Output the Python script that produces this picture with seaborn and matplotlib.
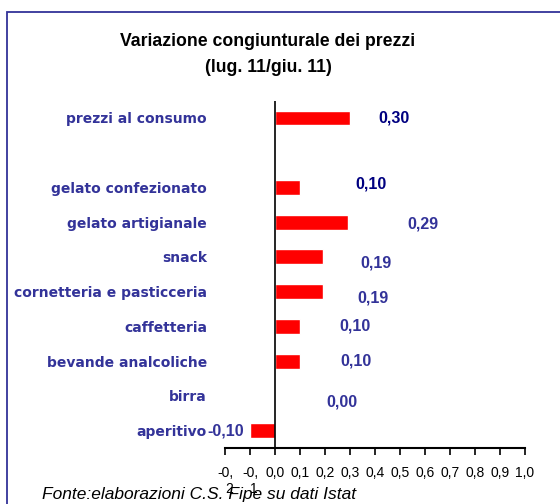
import matplotlib
matplotlib.use("Agg")
import matplotlib.pyplot as plt
import seaborn as sns
import pandas as pd
import numpy as np
from matplotlib.patches import Rectangle

# ---- data ----
categories = ["prezzi al consumo", " ", "gelato confezionato", "gelato artigianale",
              "snack", "cornetteria e pasticceria", "caffetteria",
              "bevande analcoliche", "birra", "aperitivo"]
values = [0.30, np.nan, 0.10, 0.29, 0.19, 0.19, 0.10, 0.10, 0.00, -0.10]
value_labels = ["0,30", "", "0,10", "0,29", "0,19", "0,19", "0,10", "0,10", "0,00", "-0,10"]
tick_values = [-0.2, -0.1, 0.0, 0.1, 0.2, 0.3, 0.4, 0.5, 0.6, 0.7, 0.8, 0.9, 1.0]
tick_labels = ["-0,\n2", "-0,\n1", "0,0", "0,1", "0,2", "0,3", "0,4", "0,5",
               "0,6", "0,7", "0,8", "0,9", "1,0"]
title_lines = ["Variazione congiunturale dei prezzi", "(lug. 11/giu. 11)"]
footer = "Fonte:elaborazioni C.S. Fipe su dati Istat"

# ---- label styling (offsets of data labels, as in the original layout) ----
label_dx = [0.176, 0, 0.284, 0.302, 0.215, 0.203, 0.22, 0.224, 0.268, -0.096]
label_dy = [0.0, 0, -0.09, 0.06, 0.17, 0.17, 0.0, 0.0, 0.17, 0.0]
label_colors = ["#000080", "#000080", "#000080", "#333399", "#333399", "#333399",
                "#333399", "#333399", "#333399", "#333399"]

sns.set_theme(style="white")
plt.rcParams["font.family"] = ["Liberation Sans", "DejaVu Sans"]

W, H = 560, 504
fig = plt.figure(figsize=(W / 100, H / 100), dpi=100)
ax = fig.add_axes([225 / W, 1 - 448 / H, 300 / W, (448 - 100.6) / H])

df = pd.DataFrame({"cat": categories, "val": values})
sns.barplot(data=df.dropna(), x="val", y="cat", order=categories, color="#FF0000",
            saturation=1, width=0.43, orient="h", errorbar=None, ax=ax)

ax.set_xlim(-0.2, 1.0)
ax.set_ylim(len(categories) - 0.5, -0.5)
ax.set_xlabel("")
ax.set_ylabel("")
ax.set_xticks(tick_values)
ax.set_xticklabels(tick_labels)
for t in ax.get_xticklabels():
    t.set_multialignment("right")
    t.set_verticalalignment("top")

for s in ["top", "right", "left"]:
    ax.spines[s].set_visible(False)
ax.spines["bottom"].set_color("black")
ax.spines["bottom"].set_linewidth(1.5)
ax.axvline(0, color="black", lw=1.2, zorder=3)

ax.tick_params(axis="x", direction="out", length=5, width=1.2, colors="black",
               pad=8, labelsize=10, bottom=True)
ax.tick_params(axis="y", length=0, pad=13, labelcolor="#333399")
for t in ax.get_yticklabels():
    t.set_fontfamily("DejaVu Sans")
    t.set_fontweight("bold")
    t.set_fontsize(10)

for i, (v, lab) in enumerate(zip(values, value_labels)):
    if not lab:
        continue
    ax.text(v + label_dx[i], i + label_dy[i], lab, ha="center", va="center",
            color=label_colors[i], fontweight="bold", fontsize=11.5, clip_on=False)

fig.text(268 / W, 1 - 41 / H, title_lines[0], ha="center", va="center",
         fontsize=12.7, fontweight="bold", color="black")
fig.text(268 / W, 1 - 68 / H, title_lines[1], ha="center", va="center",
         fontsize=12.7, fontweight="bold", color="black")
fig.text(42 / W, 1 - 494 / H, footer, ha="left", va="center",
         fontsize=12.5, style="italic", color="black")

fig.add_artist(Rectangle((7 / W, -0.05), 1.0, (H - 12) / H + 0.05,
                         transform=fig.transFigure, fill=False,
                         edgecolor="#333399", lw=1.3))

fig.savefig("out.png", dpi=100)
